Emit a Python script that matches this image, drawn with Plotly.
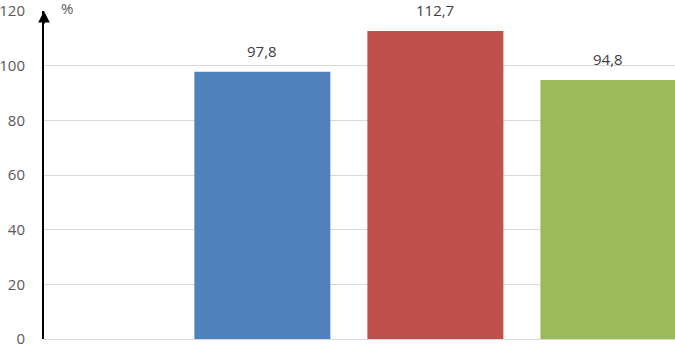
import plotly.graph_objects as go

categories = ["A", "B", "C"]
values = [97.8, 112.7, 94.8]
colors = ["#4F81BD", "#C0504D", "#9BBB59"]
y_ticks = [0, 20, 40, 60, 80, 100, 120]
unit_label = "%"

fig = go.Figure()
fig.add_trace(go.Bar(
    x=categories, y=values, marker=dict(color=colors, line=dict(width=0)),
    hoverinfo="skip",
))

for c, v in zip(categories, values):
    fig.add_annotation(
        x=c, y=v, xref="x", yref="y", text=f"{v:.1f}".replace(".", ","),
        showarrow=False, yanchor="bottom", yshift=9,
        font=dict(family="Open Sans", size=15, color="#404040"),
    )

# y-axis arrow
fig.add_annotation(
    x=0, y=120, xref="paper", yref="y", ax=0, ay=14, axref="pixel", ayref="pixel",
    text="", showarrow=True, arrowhead=2, arrowsize=1.15, arrowwidth=2,
    arrowcolor="#000000",
)
fig.add_annotation(
    x=0.037, y=120, xref="paper", yref="y", text=unit_label, showarrow=False,
    xanchor="center", yanchor="middle", yshift=3,
    font=dict(family="Open Sans", size=15, color="#595959"),
)

fig.update_layout(
    width=675, height=345,
    margin=dict(l=44, r=0, t=11, b=6, autoexpand=False),
    paper_bgcolor="white", plot_bgcolor="white",
    bargap=0.214, showlegend=False,
    xaxis=dict(range=[-1.262, 2.385], showticklabels=False, showgrid=False,
               zeroline=False, showline=False, ticks="", automargin=False),
    yaxis=dict(range=[0, 120], tickvals=y_ticks, showgrid=True,
               gridcolor="#D9D9D9", gridwidth=1, zeroline=True,
               zerolinecolor="#D9D9D9", zerolinewidth=1,
               showline=True, linecolor="#000000", linewidth=2,
               ticks="", ticklabelstandoff=14, ticklabeloverflow="allow",
               automargin=False,
               tickfont=dict(family="Open Sans", size=15, color="#595959")),
)

fig.write_html("out.html", config={"displayModeBar": False},
               post_script="document.body.style.margin='0';document.body.style.overflow='hidden';")
